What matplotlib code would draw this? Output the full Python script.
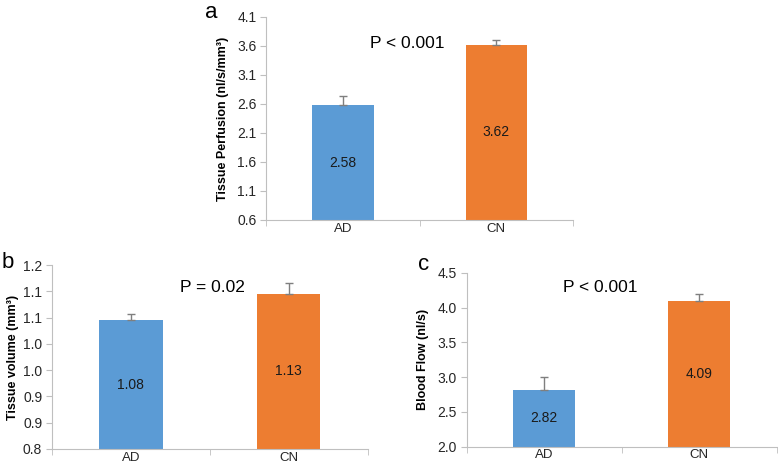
import matplotlib.pyplot as plt
import numpy as np

groups = ["AD", "CN"]
colors = ["#5B9BD5", "#ED7D31"]

# panel a - tissue perfusion
perf_vals = [2.58, 3.62]
perf_err = [0.16, 0.09]
perf_lbl = ["2.58", "3.62"]
perf_ticks = [0.6, 1.1, 1.6, 2.1, 2.6, 3.1, 3.6, 4.1]

# panel b - tissue volume
vol_vals = [1.08, 1.137]
vol_err = [0.014, 0.025]
vol_lbl = ["1.08", "1.13"]
vol_ticks = list(np.linspace(0.8, 1.2, 8))

# panel c - blood flow
flow_vals = [2.82, 4.09]
flow_err = [0.18, 0.11]
flow_lbl = ["2.82", "4.09"]
flow_ticks = [2.0, 2.5, 3.0, 3.5, 4.0, 4.5]

plt.rcParams['font.family'] = ['Liberation Sans', 'DejaVu Sans']
fig = plt.figure(figsize=(7.78, 4.67), dpi=100)


def panel(rect, vals, err, lbls, ticks, ylabel, ptext, pxy, letter, lxy, ylpad):
    ax = fig.add_axes(rect)
    x = np.arange(len(groups))
    ax.bar(x, vals, width=0.4, color=colors, zorder=2)
    ax.errorbar(x, vals, yerr=[[0] * len(vals), err], fmt="none",
                ecolor="#7f7f7f", elinewidth=1, capsize=3, capthick=1, zorder=3)
    for xi, v, t in zip(x, vals, lbls):
        ax.text(xi, (ticks[0] + v) / 2, t, ha="center", va="center",
                fontsize=10, color="#1a1a1a")
    ax.set_xlim(-0.5, 1.5)
    ax.set_ylim(ticks[0], ticks[-1])
    ax.set_yticks(ticks)
    ax.set_yticklabels(["%.1f" % t for t in ticks])
    ax.set_xticks(x)
    ax.set_xticklabels(groups)
    ax.set_xticks([-0.5, 0.5, 1.5], minor=True)
    ax.tick_params(axis="x", which="major", length=0, labelsize=9.5, pad=2,
                   labelcolor="#262626")
    ax.tick_params(axis="x", which="minor", length=4, color="#bfbfbf")
    ax.tick_params(axis="y", length=4, color="#bfbfbf", labelsize=10,
                   labelcolor="#262626", pad=3)
    for s in ["top", "right"]:
        ax.spines[s].set_visible(False)
    for s in ["left", "bottom"]:
        ax.spines[s].set_color("#bfbfbf")
        ax.spines[s].set_linewidth(0.8)
    ax.set_ylabel(ylabel, fontsize=9, fontweight="bold", labelpad=ylpad)
    fig.text(pxy[0], pxy[1], ptext, ha="center", va="center", fontsize=12.5)
    fig.text(lxy[0], lxy[1], letter, ha="left", va="center", fontsize=16)
    return ax


panel([0.342, 0.529, 0.3946, 0.4347], perf_vals, perf_err, perf_lbl, perf_ticks,
      "Tissue Perfusion (nl/s/mm³)", "P < 0.001", (407 / 778, 1 - 44 / 467),
      "a", (205 / 778, 1 - 12 / 467), 6)
panel([0.0668, 0.039, 0.406, 0.393], vol_vals, vol_err, vol_lbl, vol_ticks,
      "Tissue volume (mm³)", "P = 0.02", (212 / 778, 1 - 288 / 467),
      "b", (2 / 778, 1 - 263 / 467), 3)
panel([0.600, 0.0435, 0.3985, 0.372], flow_vals, flow_err, flow_lbl, flow_ticks,
      "Blood Flow (nl/s)", "P < 0.001", (600 / 778, 1 - 288 / 467),
      "c", (418 / 778, 1 - 265 / 467), 6)

plt.savefig("out.png", dpi=100)
